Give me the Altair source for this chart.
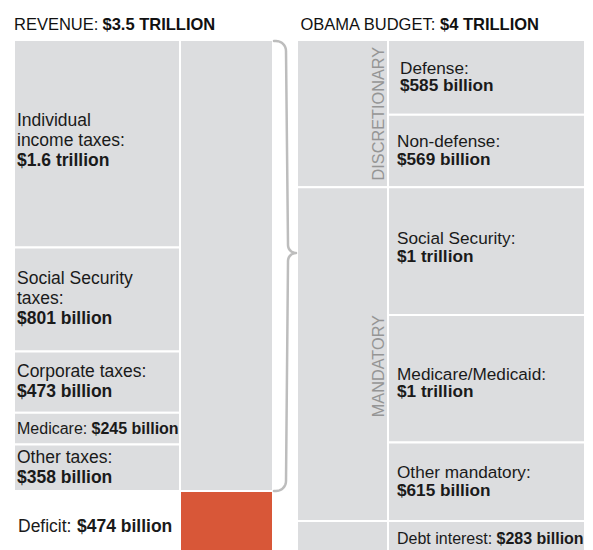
import altair as alt
import numpy as np
import pandas as pd

# ---------------- data ----------------
revenue_items = ["Individual income taxes", "Social Security taxes", "Corporate taxes", "Medicare", "Other taxes"]
revenue_values = [1600, 801, 473, 245, 358]          # $ billions
revenue_labels = [["Individual", "income taxes:"], ["Social Security", "taxes:"],
                  ["Corporate taxes:"], ["Medicare: "], ["Other taxes:"]]
revenue_value_labels = ["$1.6 trillion", "$801 billion", "$473 billion", "$245 billion", "$358 billion"]

deficit_value = 474
deficit_label = "Deficit: "
deficit_value_label = "$474 billion"

budget_items = ["Defense", "Non-defense", "Social Security", "Medicare/Medicaid", "Other mandatory", "Debt interest"]
budget_values = [585, 569, 1000, 1000, 615, 283]      # $ billions
budget_groups = ["DISCRETIONARY", "DISCRETIONARY", "MANDATORY", "MANDATORY", "MANDATORY", ""]
budget_labels = [["Defense:"], ["Non-defense:"], ["Social Security:"], ["Medicare/Medicaid:"],
                 ["Other mandatory:"], ["Debt interest: "]]
budget_value_labels = ["$585 billion", "$569 billion", "$1 trillion", "$1 trillion", "$615 billion", "$283 billion"]

title_normal = ["REVENUE: ", "OBAMA BUDGET: "]
title_bold = ["$3.5 TRILLION", "$4 TRILLION"]

# ---------------- layout (page pixels) ----------------
PAGE = 8
W, H = 577, 542
TOP = 40
LEFT_END = 491
RIGHT_END = 521
X_REV = (14, 180)
X_TOT = (180, 273)
X_CAT = (297, 388)
X_BUD = (388, 585)
TXT_L = 17
TXT_R = 397
LH_L = 20
LH_R = 17.5
INLINE_X = {"Medicare": 91.5, "Deficit": 77, "Debt interest": 496.5}
INLINE_SIZE = {"Medicare": 16, "Deficit": 17.5, "Debt interest": 16}
LABEL_DY = {"Individual income taxes": -3, "Social Security": -3, "Medicare/Medicaid": 5, "Deficit": 5}
LABEL_DX = {"Defense": 3}
SIZE_L = 17.5
SIZE_R = 17.2
CAT_DY = {"DISCRETIONARY": 0, "MANDATORY": 12}

GRAY = "#DCDDDF"
RED = "#D85738"
BRACE = "#BDBDBD"
INK = "#1a1a1a"
CAT_INK = "#959595"
FONT = "Liberation Sans"

REV_TOTAL = sum(revenue_values)
BUD_MAIN = sum(budget_values[:5])
pxL = (LEFT_END - TOP) / REV_TOTAL
pxR = (RIGHT_END - TOP) / BUD_MAIN


def stack(vals):
    e = np.cumsum(vals).astype(float)
    return e - np.array(vals, dtype=float), e


def xenc(field):
    return alt.X(field, type="quantitative", axis=None,
                 scale=alt.Scale(domain=[PAGE, PAGE + W], range=[0, W]))


def y_left(field):
    return alt.Y(field, type="quantitative", axis=None,
                 scale=alt.Scale(domain=[0, REV_TOTAL], range=[TOP - PAGE, LEFT_END - PAGE]))


def y_right(field):
    return alt.Y(field, type="quantitative", axis=None,
                 scale=alt.Scale(domain=[0, BUD_MAIN], range=[TOP - PAGE, RIGHT_END - PAGE]))


def y_px(field):
    return alt.Y(field, type="quantitative", axis=None,
                 scale=alt.Scale(domain=[PAGE, PAGE + H], range=[0, H]))


# ---------------- rectangles ----------------
rs, re_ = stack(revenue_values)
left_rows = []
for i in range(len(revenue_values)):
    left_rows.append(dict(x0=X_REV[0], x1=X_REV[1], y0=rs[i], y1=re_[i], fill=GRAY))
left_rows.append(dict(x0=X_TOT[0], x1=X_TOT[1], y0=0, y1=REV_TOTAL, fill=GRAY))
left_rows.append(dict(x0=X_TOT[0], x1=X_TOT[1], y0=REV_TOTAL, y1=REV_TOTAL + deficit_value, fill=RED))
left_rect_df = pd.DataFrame(left_rows)

bs, be = stack(budget_values)
right_rows = []
for i in range(len(budget_values)):
    right_rows.append(dict(x0=X_BUD[0], x1=X_BUD[1], y0=bs[i], y1=be[i], fill=GRAY))
groups = []
for i, g in enumerate(budget_groups):
    if groups and groups[-1]["g"] == g:
        groups[-1]["y1"] = be[i]
    else:
        groups.append(dict(g=g, y0=bs[i], y1=be[i]))
for gr in groups:
    right_rows.append(dict(x0=X_CAT[0], x1=X_CAT[1], y0=gr["y0"], y1=gr["y1"], fill=GRAY))
right_rect_df = pd.DataFrame(right_rows)

left_rects = alt.Chart(left_rect_df).mark_rect(stroke="white", strokeWidth=2, clip=True).encode(
    x=xenc("x0"), x2="x1", y=y_left("y0"), y2="y1", fill=alt.Fill("fill:N", scale=None))
right_rects = alt.Chart(right_rect_df).mark_rect(stroke="white", strokeWidth=2, clip=True).encode(
    x=xenc("x0"), x2="x1", y=y_right("y0"), y2="y1", fill=alt.Fill("fill:N", scale=None))


# ---------------- text ----------------
def label_rows(names, labels, vlabels, starts, ends, x_txt, lh, px, size_body):
    rows = []
    for i, name in enumerate(names):
        c = (starts[i] + ends[i]) / 2 + LABEL_DY.get(name, 0) / px
        xt = x_txt + LABEL_DX.get(name, 0)
        lines = labels[i]
        if lines[-1].endswith(" "):
            key = lines[-1].strip().rstrip(":")
            size = INLINE_SIZE.get(key, size_body)
            rows.append(dict(x=xt, y=c, text=lines[-1], size=size, bold=False))
            rows.append(dict(x=INLINE_X[key], y=c, text=vlabels[i], size=size, bold=True))
        else:
            allines = lines + [vlabels[i]]
            n = len(allines)
            for j, t in enumerate(allines):
                rows.append(dict(x=xt, y=c + (j - (n - 1) / 2) * lh / px, text=t,
                                 size=size_body, bold=(j == n - 1)))
    return rows


lt = label_rows(revenue_items, revenue_labels, revenue_value_labels, rs, re_, TXT_L, LH_L, pxL, SIZE_L)
lt += label_rows(["Deficit"], [[deficit_label]], [deficit_value_label],
                 [REV_TOTAL], [REV_TOTAL + deficit_value], TXT_L + 1, LH_L, pxL, SIZE_L)
left_text_df = pd.DataFrame(lt)
rt = label_rows(budget_items, budget_labels, budget_value_labels, bs, be, TXT_R, LH_R, pxR, SIZE_R)
right_text_df = pd.DataFrame(rt)


def text_layer(df, yfun, bold):
    d = df[df["bold"] == bold]
    return alt.Chart(d).mark_text(align="left", baseline="middle", font=FONT, color=INK,
                                  fontWeight="bold" if bold else "normal").encode(
        x=xenc("x"), y=yfun("y"), text="text:N", size=alt.Size("size:Q", scale=None))


cat_df = pd.DataFrame([dict(x=384, y=(g["y0"] + g["y1"]) / 2 + CAT_DY[g["g"]] / pxR, text=g["g"])
                       for g in groups if g["g"]])
cat_text = alt.Chart(cat_df).mark_text(angle=270, align="center", baseline="alphabetic", font=FONT,
                                       fontSize=16.3, color=CAT_INK).encode(
    x=xenc("x"), y=y_right("y"), text="text:N")

# ---------------- titles ----------------
title_df_n = pd.DataFrame(dict(x=[14, 300.5], y=[30, 30], text=title_normal))
title_df_b = pd.DataFrame(dict(x=[102.5, 440], y=[30, 30], text=title_bold))
t_norm = alt.Chart(title_df_n).mark_text(align="left", baseline="alphabetic", font=FONT, fontSize=16.5,
                                         color="#111111").encode(x=xenc("x"), y=y_px("y"), text="text:N")
t_bold = alt.Chart(title_df_b).mark_text(align="left", baseline="alphabetic", font=FONT, fontSize=16.5,
                                         fontWeight="bold", color="#111111").encode(
    x=xenc("x"), y=y_px("y"), text="text:N")

# ---------------- brace (decoration, page pixels) ----------------
bx_end, bx_v, bx_tip = 274, 286, 296
by_top, by_tip, by_bot = 41, 253, 491
r, rt_ = 10, 8
pts = [(bx_end, by_top)]
a = np.linspace(np.pi / 2, 0, 10)
pts += [(bx_v - r + r * np.cos(t), by_top + r - r * np.sin(t)) for t in a]
a = np.linspace(np.pi, np.pi / 2, 8)
pts += [(bx_tip + rt_ * np.cos(t), by_tip - rt_ + rt_ * np.sin(t)) for t in a]
a = np.linspace(3 * np.pi / 2, np.pi, 8)
pts += [(bx_tip + rt_ * np.cos(t), by_tip + rt_ + rt_ * np.sin(t)) for t in a]
a = np.linspace(0, -np.pi / 2, 10)
pts += [(bx_v - r + r * np.cos(t), by_bot - r - r * np.sin(t)) for t in a]
pts += [(bx_end, by_bot)]
brace_df = pd.DataFrame(dict(x=[p[0] for p in pts], y=[p[1] for p in pts], i=range(len(pts))))
brace = alt.Chart(brace_df).mark_line(stroke=BRACE, strokeWidth=2.5, strokeCap="round",
                                      strokeJoin="round").encode(
    x=xenc("x"), y=y_px("y"), order="i:Q")

chart = alt.layer(
    left_rects, right_rects,
    text_layer(left_text_df, y_left, False), text_layer(left_text_df, y_left, True),
    text_layer(right_text_df, y_right, False), text_layer(right_text_df, y_right, True),
    cat_text, t_norm, t_bold, brace,
).resolve_scale(y="independent").properties(
    width=W, height=H, padding=0, autosize=alt.AutoSizeParams(type="none"),
    background="white",
).configure_view(stroke=None)

chart.save("out.html", embed_options={"renderer": "svg", "actions": False})
